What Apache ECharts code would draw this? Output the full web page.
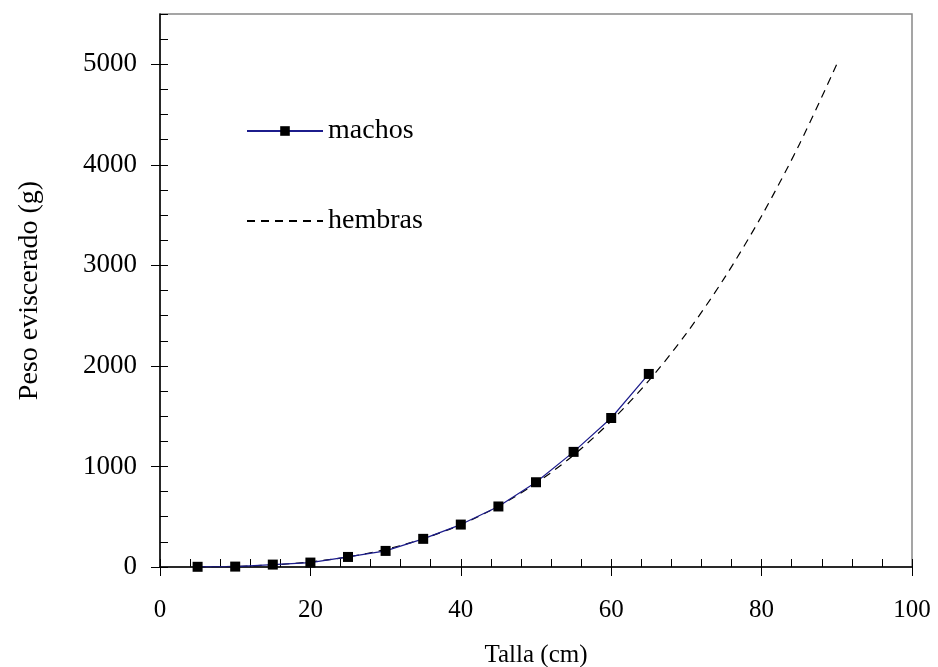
<!DOCTYPE html>
<html>
<head>
<meta charset="utf-8">
<script src="https://cdn.jsdelivr.net/npm/echarts@6/dist/echarts.min.js"></script>
<style>
  html, body { margin: 0; padding: 0; background: #fff; }
  #chart { width: 938px; height: 667px; }
</style>
</head>
<body>
<div id="chart"></div>
<script>
// Talla (cm) for each series
const machosTalla = [5, 10, 15, 20, 25, 30, 35, 40, 45, 50, 55, 60, 65];
const machosPeso  = [2, 4, 24, 44, 100, 160, 280, 422, 602, 843, 1145, 1482, 1920];

const hembrasTalla = [5, 10, 15, 20, 25, 30, 35, 40, 45, 50, 55, 60, 65, 70, 75, 80, 85, 90];
const hembrasPeso  = [1, 6, 21, 51, 100, 175, 281, 421, 604, 833, 1113, 1452, 1853, 2323, 2868, 3491, 4200, 5000];

const xTickLabels = [0, 20, 40, 60, 80, 100];
const yTickLabels = [0, 1000, 2000, 3000, 4000, 5000];

const FONT = '"Liberation Serif", "Times New Roman", serif';

const pairs = (xs, ys) => xs.map((x, i) => [x, ys[i]]);

const chart = echarts.init(document.getElementById('chart'));
chart.setOption({
  animation: false,
  backgroundColor: '#ffffff',
  textStyle: { fontFamily: FONT },
  grid: {
    left: 160, right: 26, top: 14, bottom: 100,
    outerBoundsMode: 'none',
    containLabel: false,
    show: true, borderColor: '#888888', borderWidth: 1.5, backgroundColor: 'transparent'
  },
  legend: {
    orient: 'vertical',
    left: 246, top: 116,
    padding: 0,
    itemWidth: 76, itemHeight: 12, itemGap: 60,
    textStyle: { fontFamily: FONT, fontSize: 28, color: '#000', lineHeight: 30 },
    data: ['machos', 'hembras']
  },
  xAxis: [
    {
      type: 'value', min: 0, max: 100, interval: 20, position: 'bottom',
      name: 'Talla (cm)', nameLocation: 'middle', nameGap: 76,
      nameTextStyle: { fontFamily: FONT, fontSize: 25, color: '#000' },
      axisLine: { show: true, lineStyle: { color: '#000', width: 1.5 } },
      axisTick: { show: true, inside: false, length: 9, lineStyle: { color: '#000', width: 1 } },
      axisLabel: {
        margin: 31, fontFamily: FONT, fontSize: 25, color: '#000',
        formatter: v => xTickLabels.includes(v) ? String(v) : ''
      },
      splitLine: { show: false }
    },
    {
      type: 'value', min: 0, max: 100, interval: 4, position: 'bottom',
      axisLine: { show: false },
      axisTick: { show: true, inside: true, length: 8, lineStyle: { color: '#000', width: 1 } },
      axisLabel: { show: false },
      splitLine: { show: false }
    }
  ],
  yAxis: [
    {
      type: 'value', min: 0, max: 5500, interval: 1000, position: 'left',
      name: 'Peso eviscerado (g)', nameLocation: 'middle', nameGap: 116,
      nameTextStyle: { fontFamily: FONT, fontSize: 28, color: '#000' },
      axisLine: { show: true, lineStyle: { color: '#000', width: 1.5 } },
      axisTick: { show: true, inside: false, length: 9, lineStyle: { color: '#000', width: 1 } },
      axisLabel: {
        margin: 23, fontFamily: FONT, fontSize: 27, color: '#000', showMaxLabel: false,
        formatter: v => yTickLabels.includes(v) ? String(v) : ''
      },
      splitLine: { show: false }
    },
    {
      type: 'value', min: 0, max: 5500, interval: 250, position: 'left',
      axisLine: { show: false },
      axisTick: { show: true, inside: true, length: 8, lineStyle: { color: '#000', width: 1 } },
      axisLabel: { show: false },
      splitLine: { show: false }
    }
  ],
  series: [
    {
      name: 'hembras',
      type: 'line',
      xAxisIndex: 0, yAxisIndex: 0,
      data: pairs(hembrasTalla, hembrasPeso),
      smooth: 0.3,
      symbol: 'none',
      lineStyle: { color: '#000', width: 1.2, type: [8, 6] },
      itemStyle: { color: 'rgba(0,0,0,0)' },
      z: 2
    },
    {
      name: 'machos',
      type: 'line',
      xAxisIndex: 0, yAxisIndex: 0,
      data: pairs(machosTalla, machosPeso),
      symbol: 'rect',
      symbolSize: 10,
      lineStyle: { color: '#1c1c8c', width: 1.2 },
      itemStyle: { color: '#000', borderWidth: 0 },
      z: 3
    }
  ]
});
</script>
</body>
</html>
